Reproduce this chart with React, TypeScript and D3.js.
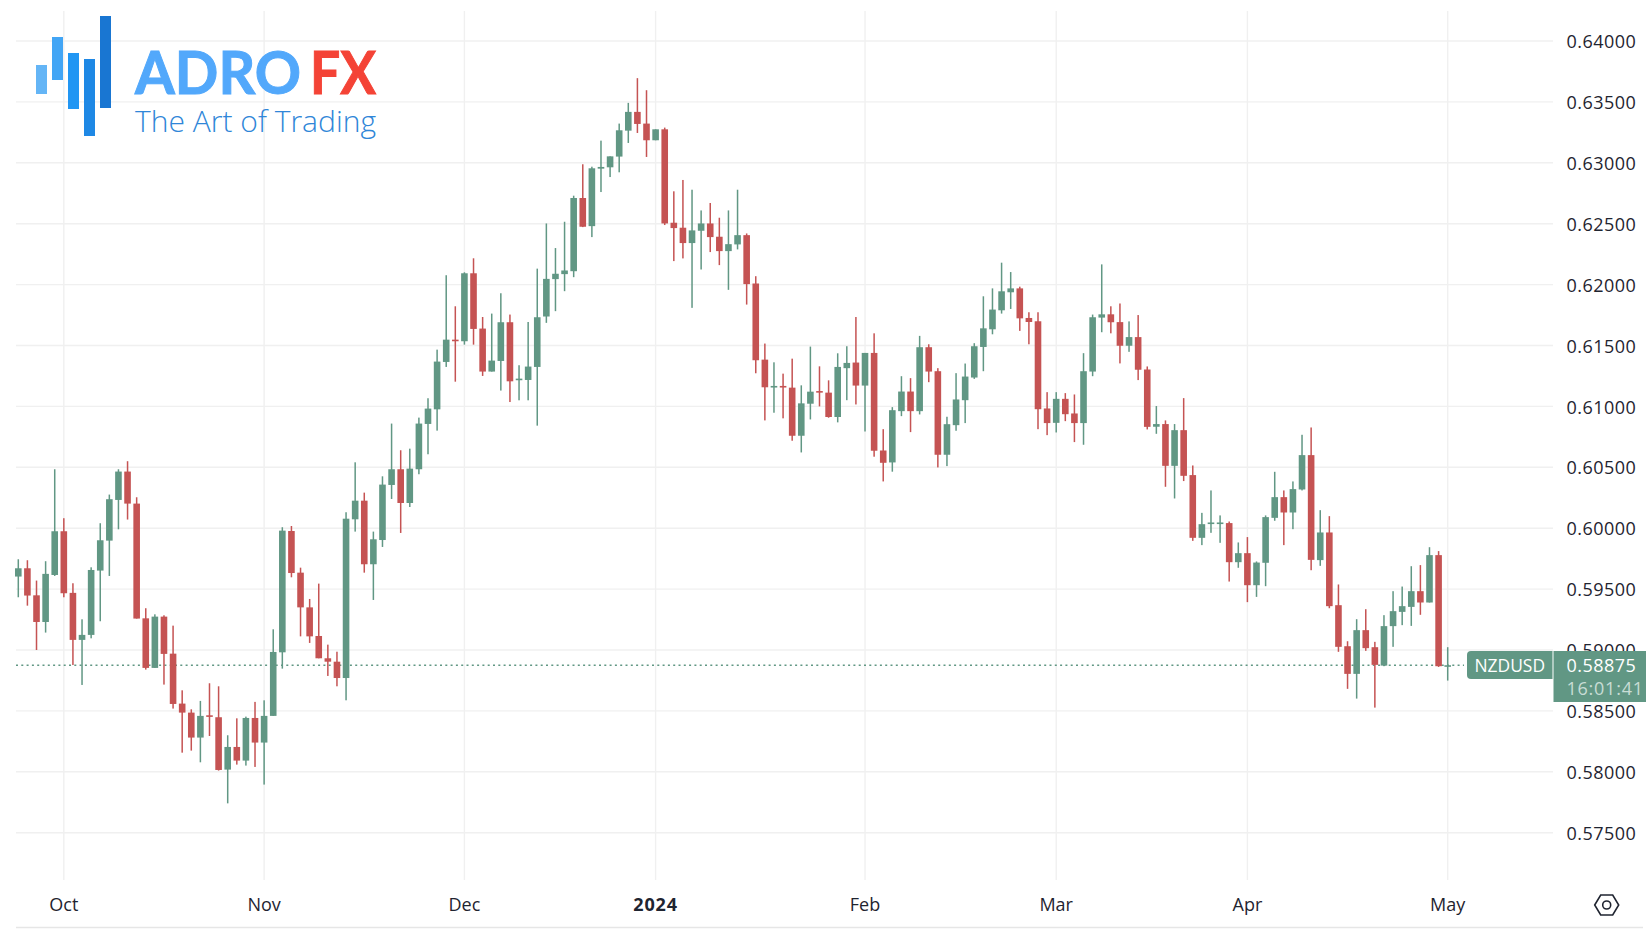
import React from "react";
import * as d3 from "d3";

// Prices are stored in units of 0.00001 (NZDUSD daily candles).
const opens = [
59603,59671,59449,59230,59616,59975,59469,59083,59124,59652,
59898,60232,60465,60202,59260,58853,59274,58970,58560,58486,
58281,58464,58448,58018,58204,58092,58442,58240,58459,58981,
59977,59635,59350,59115,58932,58904,58770,60073,60226,59704,
59903,60355,60484,60207,60484,60856,60976,61365,61548,61535,
62093,61639,61286,61373,61691,61217,61217,61324,61738,62045,
62086,62110,62711,62480,62952,62963,63051,63264,63418,63322,
63185,63275,62508,62467,62341,62442,62502,62393,62275,62330,
62406,62009,61384,61157,61168,61154,60759,61022,61126,61113,
60913,61314,61360,61171,61439,60638,60540,60961,61122,60961,
61486,61289,60603,60846,61051,61237,61488,61633,61789,61937,
61969,61726,61699,60983,60865,61062,60942,60863,61286,61729,
61756,61692,61498,61569,61303,60833,60855,60512,60805,60436,
59921,60036,60036,60042,59721,59795,59532,59716,60085,60255,
60129,60318,60600,59738,59965,59368,59031,58804,59163,59023,
58872,59196,59313,59354,59483,59390,59779,58868];
const highs = [
59745,59737,59570,59729,60484,60082,59548,59252,59679,60041,
60276,60484,60550,60254,59343,59293,59285,59200,58669,58513,
58582,58727,58702,58300,58439,58453,58574,58587,59170,60008,
60018,59676,59419,59545,59044,58986,60131,60541,60292,59972,
60426,60859,60640,60653,60908,61067,61466,62077,61822,62101,
62216,61734,61762,61929,61754,61338,61693,62131,62502,62300,
62516,62730,62988,62968,63182,63053,63322,63492,63695,63596,
63275,63289,62766,62859,62779,62609,62670,62549,62609,62779,
62420,62069,61516,61362,61269,61392,61173,61491,61329,61214,
61436,61494,61734,61439,61600,60813,60994,61248,61232,61579,
61510,61314,60915,61273,61352,61519,61904,61969,62180,62103,
61983,61773,61773,61117,61117,61109,61098,61437,61754,62166,
61822,61845,61698,61750,61328,61003,60885,60855,61068,60515,
60126,60310,60105,60055,59883,59927,59727,60105,60463,60310,
60384,60767,60827,60148,60099,59538,59072,59253,59335,59067,
59286,59483,59521,59688,59697,59844,59812,59023];
const lows = [
59433,59364,59000,59143,59608,59433,58877,58713,59096,59236,
59608,59991,60071,59258,58839,58853,58716,58519,58157,58174,
58078,58294,58010,57741,58059,58051,58040,57895,58459,58847,
59597,59112,59058,58932,58787,58702,58587,59972,59635,59411,
59846,60240,59961,60174,60443,60607,60801,61324,61203,61507,
61507,61250,61286,61130,61036,61050,61050,60842,61686,61782,
61946,62061,62472,62390,62760,62883,62922,63163,63245,63048,
63185,62489,62193,62215,61809,62124,62267,62160,61957,62289,
61836,61272,60885,60948,60902,60718,60622,60893,61000,60907,
60869,61051,61016,60794,60587,60384,60464,60920,60789,60934,
61199,60499,60510,60800,60863,61226,61289,61592,61762,61800,
61620,61510,60813,60764,60786,60879,60707,60685,61248,61609,
61600,61353,61448,61216,60811,60775,60340,60244,60387,59896,
59861,59962,59880,59562,59675,59393,59436,59524,60061,59861,
59992,60310,59655,59691,59343,58985,58681,58601,58993,58527,
58867,59026,59204,59198,59289,59390,58861,58749];
const closes = [
59671,59447,59230,59625,59975,59466,59083,59124,59657,59901,
60238,60465,60202,59258,58853,59274,58968,58557,58486,58281,
58459,58456,58015,58204,58092,58442,58240,58459,58984,59980,
59632,59350,59112,58932,58904,58770,60078,60226,59704,59909,
60358,60484,60207,60489,60859,60982,61368,61548,61540,62093,
61636,61286,61376,61691,61206,61228,61327,61732,62047,62089,
62116,62711,62475,62955,62966,63053,63267,63418,63319,63185,
63275,62502,62464,62341,62445,62502,62390,62275,62332,62406,
62004,61379,61157,61168,61157,60759,61025,61121,61116,60913,
61324,61357,61171,61439,60636,60537,60969,61122,60961,61486,
61286,60603,60854,61057,61245,61494,61641,61795,61945,61969,
61723,61693,60977,60863,61062,60936,60863,61289,61732,61756,
61691,61498,61569,61301,60832,60855,60512,60805,60430,59921,
60033,60047,60047,59721,59795,59532,59718,60091,60255,60129,
60321,60600,59740,59965,59360,59026,58804,59163,59015,58878,
59196,59319,59360,59483,59390,59779,58867,58875];

const priceTicks = [64000,63500,63000,62500,62000,61500,61000,60500,60000,59500,59000,58500,58000,57500];
const monthLabels = ["Oct","Nov","Dec","2024","Feb","Mar","Apr","May"];
const monthBars = [5,27,49,70,93,114,135,157];
const lastPrice = 58875;
const symbol = "NZDUSD";
const countdown = "16:01:41";

const UP = "#619784";
const DOWN = "#c55353";
const GRID = "#f0f0f0";
const TEXT = "#1f2430";
const FONT = "'Open Sans','Noto Sans',sans-serif";

const W = 1652, H = 932;
const yScale = d3.scaleLinear().domain([64000, 57500]).range([41, 832.7]);
const xScale = d3.scaleLinear().domain([0, 157]).range([18.3, 1447.7]);
const fmt = (v: number) => d3.format(".5f")(v / 1e5);
const BODY_W = 6.6, WICK_W = 1.5, GRID_L = 16, GRID_R = 1553;

const logoBars = [
  { x: 36, y0: 65, y1: 94, c: "#64b5f6" },
  { x: 52, y0: 37, y1: 80, c: "#42a5f5" },
  { x: 68, y0: 53, y1: 109, c: "#2196f3" },
  { x: 84, y0: 59, y1: 136, c: "#1e88e5" },
  { x: 100, y0: 16, y1: 108, c: "#1976d2" },
];

const hexPath = d3.line()([[-12, 0], [-6, -10], [6, -10], [12, 0], [6, 10], [-6, 10]]) + "Z";

export default function App() {
  const lastY = yScale(lastPrice);
  return (
    <svg width={W} height={H} viewBox={`0 0 ${W} ${H}`}
      style={{ position: "absolute", left: 0, top: 0, display: "block", background: "#fff" }}>
      <g stroke={GRID} strokeWidth={1.4}>
        {priceTicks.map((t) => (
          <line key={t} x1={GRID_L} x2={GRID_R} y1={yScale(t)} y2={yScale(t)} />
        ))}
        {monthBars.map((b) => (
          <line key={b} x1={xScale(b)} x2={xScale(b)} y1={11} y2={880} />
        ))}
      </g>
      <line x1={16} x2={1643} y1={927.5} y2={927.5} stroke="#e6e6e6" strokeWidth={1.4} />

      <line x1={16} x2={1464} y1={lastY} y2={lastY} stroke={UP} strokeWidth={1.6} strokeDasharray="2 3.3" />

      <g>
        {opens.map((o, i) => {
          const c = closes[i];
          const col = c >= o ? UP : DOWN;
          const x = xScale(i);
          const top = yScale(Math.max(o, c));
          const bot = yScale(Math.min(o, c));
          return (
            <g key={i} fill={col}>
              <rect x={x - WICK_W / 2} width={WICK_W} y={yScale(highs[i])} height={yScale(lows[i]) - yScale(highs[i])} />
              <rect x={x - BODY_W / 2} width={BODY_W} y={top} height={Math.max(bot - top, 1.6)} />
            </g>
          );
        })}
      </g>

      <g fontFamily={FONT} fontSize={18} fill={TEXT}>
        {priceTicks.map((t) => (
          <text key={t} x={1566.5} y={yScale(t) + 0.7} dy="0.36em" letterSpacing="0.45">{fmt(t)}</text>
        ))}
        {monthLabels.map((m, i) => (
          <text key={m} x={xScale(monthBars[i])} y={905} dy="0.36em" textAnchor="middle"
            fontWeight={m === "2024" ? 700 : 400} letterSpacing={m === "2024" ? 0.9 : 0}>{m}</text>
        ))}
      </g>

      <path d={`M1552.5 651H1471a4 4 0 0 0-4 4v20a4 4 0 0 0 4 4h81.5z`} fill={UP} />
      <rect x={1553.5} y={651} width={92.5} height={51} fill={UP} />
      <g fontFamily={FONT} fontSize={18}>
        <text x={1474.5} y={665.5} dy="0.36em" fill="#fff" fontSize={17.4}>{symbol}</text>
        <text x={1566.5} y={665.5} dy="0.36em" fill="#fff" letterSpacing="0.45">{fmt(lastPrice)}</text>
        <text x={1566.5} y={689} dy="0.36em" fill="#c8ddd5" letterSpacing="0.75">{countdown}</text>
      </g>

      <g transform="translate(1606.7,905)" fill="none" stroke="#1f2430" strokeWidth={1.6}>
        <path d={hexPath} />
        <circle r={4} />
      </g>

      <g>
        {logoBars.map((b) => (
          <rect key={b.x} x={b.x} y={b.y0} width={11} height={b.y1 - b.y0} fill={b.c} />
        ))}
        <text x={135} y={93.5} fontFamily="Lato,'Open Sans',sans-serif" fontWeight={700} fontSize={60}
          fill="#52a8fb" stroke="#52a8fb" strokeWidth={1} textLength={166} lengthAdjust="spacingAndGlyphs">ADRO</text>
        <text x={310} y={93.5} fontFamily="Lato,'Open Sans',sans-serif" fontWeight={700} fontSize={60}
          fill="#f44336" stroke="#f44336" strokeWidth={1} textLength={66} lengthAdjust="spacingAndGlyphs">FX</text>
        <text x={135} y={131.5} fontFamily="'Open Sans','Noto Sans',sans-serif" fontWeight={300} fontSize={30}
          fill="#2f86d8" textLength={241} lengthAdjust="spacingAndGlyphs">The Art of Trading</text>
      </g>
    </svg>
  );
}
